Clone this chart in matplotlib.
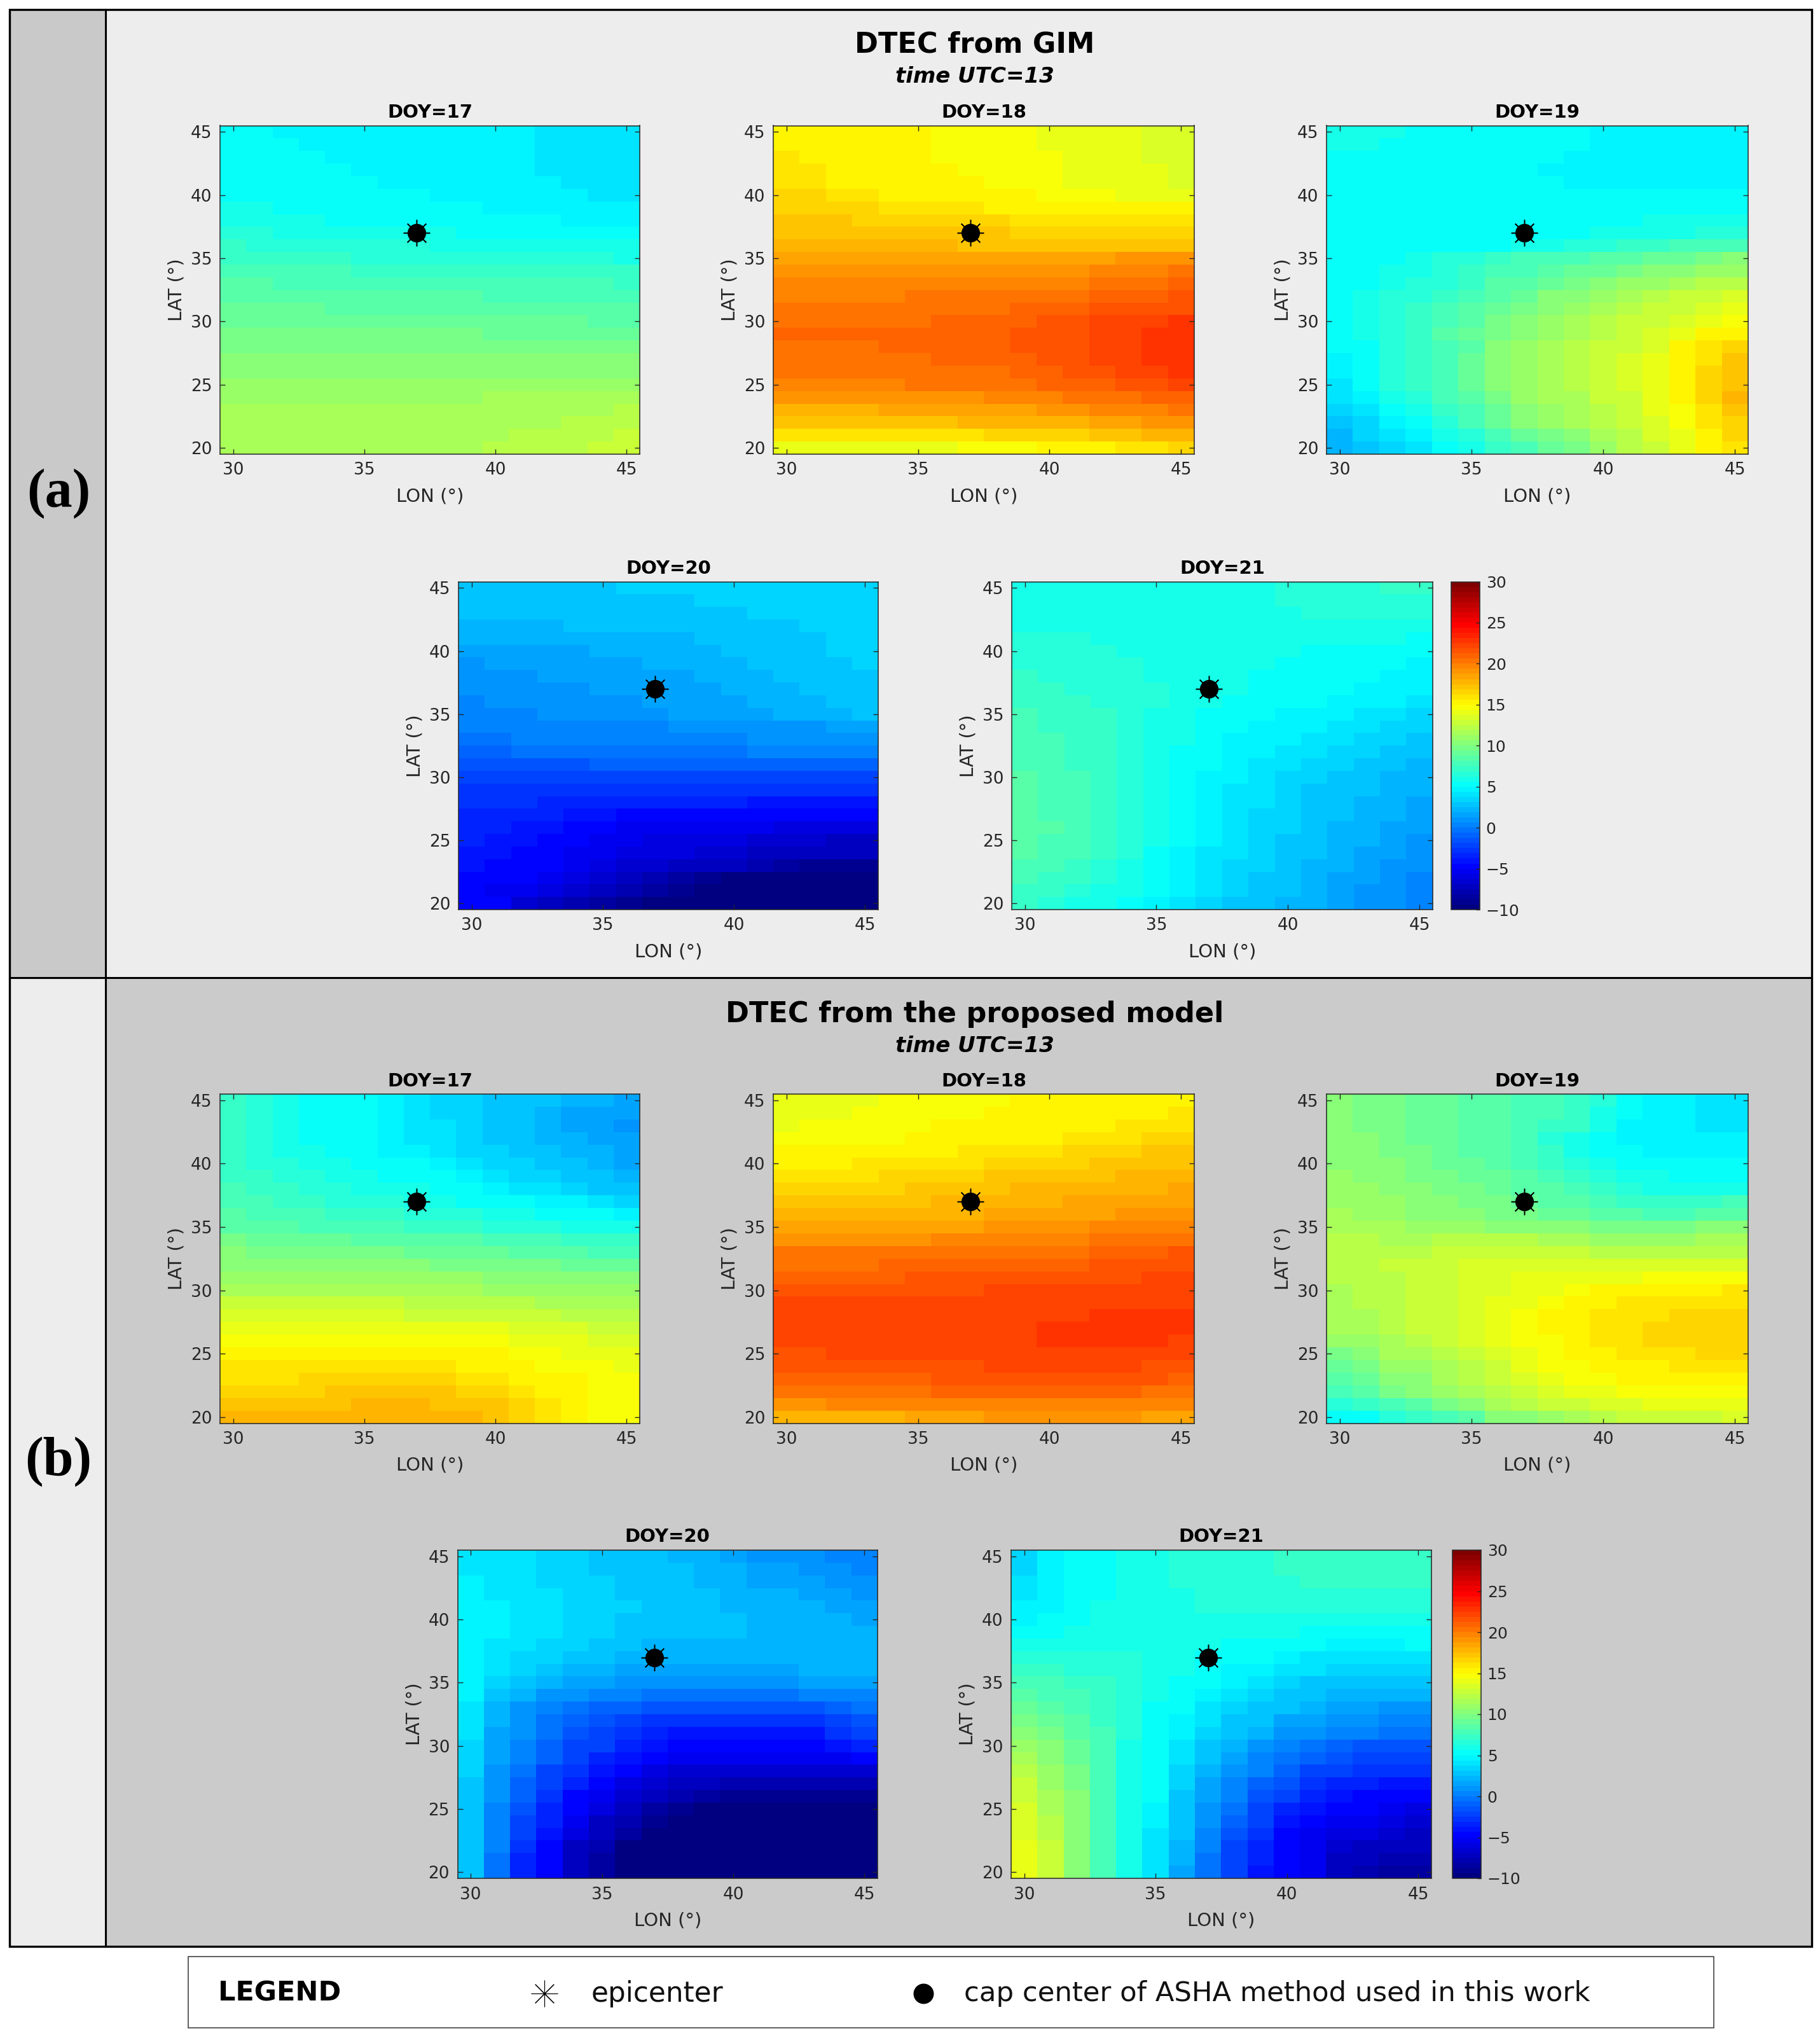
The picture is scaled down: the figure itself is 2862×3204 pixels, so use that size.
import matplotlib
matplotlib.use("Agg")
import matplotlib.pyplot as plt
import numpy as np
from matplotlib.colors import LinearSegmentedColormap
from matplotlib.lines import Line2D
from matplotlib.patches import Rectangle

# Data: DTEC, in tenths of TECU
# rows go from LAT 45 down to LAT 20, columns from LON 30 to LON 45
lon = np.arange(30, 46)
lat = np.arange(45, 19, -1)

gim_17 = [
[50,50,49,49,48,48,47,47,46,45,45,44,43,42,42,42],
[51,50,50,49,49,48,48,47,46,46,45,44,43,42,42,41],
[52,51,50,50,49,49,48,48,47,46,45,44,43,42,41,41],
[53,52,51,50,50,49,49,48,47,46,45,44,43,42,41,41],
[54,53,52,51,50,50,49,49,48,47,46,45,44,43,42,41],
[56,55,54,53,52,51,50,50,49,48,47,46,45,44,43,42],
[58,57,56,55,54,53,52,52,51,50,49,48,47,46,45,44],
[61,60,59,57,56,55,54,54,53,52,51,50,50,49,48,47],
[65,64,62,61,60,59,58,58,57,56,55,55,54,53,52,51],
[69,68,67,66,65,64,63,63,62,61,60,60,59,58,57,57],
[72,72,71,70,69,68,68,67,67,66,65,65,64,64,63,62],
[77,77,76,75,75,74,74,73,73,72,72,71,71,70,70,69],
[82,82,81,81,80,80,79,79,78,78,77,76,76,75,75,74],
[85,85,85,84,84,83,83,83,82,82,81,81,80,79,79,78],
[88,88,88,88,87,87,87,86,86,86,85,85,84,83,83,82],
[92,92,92,91,91,91,90,90,90,90,89,89,88,88,87,87],
[96,96,96,95,95,95,94,94,94,94,93,93,93,92,92,92],
[99,99,99,99,98,98,98,98,98,98,97,97,97,97,96,96],
[103,103,103,102,102,102,102,102,102,102,101,101,101,101,101,101],
[106,106,106,106,106,106,106,106,106,106,105,105,105,105,105,105],
[110,110,110,110,110,110,110,110,110,110,110,110,110,110,110,110],
[112,112,112,112,112,112,112,112,112,112,113,113,113,114,114,115],
[114,114,114,114,114,114,114,114,114,115,115,116,116,117,118,119],
[115,115,115,115,115,115,115,115,115,116,116,117,118,120,121,122],
[115,115,115,115,116,116,116,116,117,117,118,119,120,122,123,125],
[114,115,115,115,116,116,116,116,117,118,119,120,121,123,125,127],
]

gim_18 = [
[156,155,152,150,150,150,148,147,146,145,143,142,141,140,137,136],
[156,155,152,150,150,150,149,148,147,145,143,142,141,140,137,136],
[157,156,153,151,150,150,149,148,147,145,144,142,141,140,137,136],
[158,157,155,152,151,150,150,149,147,145,144,142,141,140,138,136],
[160,159,156,154,152,151,150,150,148,146,145,143,142,141,139,137],
[164,163,160,158,156,154,152,151,150,150,148,146,144,143,141,140],
[168,167,165,163,162,160,158,157,156,155,154,152,151,150,150,150],
[171,170,169,168,167,166,165,164,163,162,161,160,160,159,159,158],
[174,173,173,172,171,171,170,170,169,168,167,167,166,166,166,166],
[177,177,176,176,175,175,175,174,174,173,173,172,172,172,171,171],
[182,182,182,182,182,182,182,182,183,183,184,185,186,188,190,192],
[188,188,188,188,188,188,188,188,189,190,191,192,194,196,198,200],
[194,194,194,194,194,195,195,195,196,197,198,199,201,203,205,207],
[199,199,199,199,199,200,200,200,201,203,204,206,208,209,211,213],
[202,202,202,202,203,203,204,204,205,207,209,211,213,215,217,218],
[205,205,205,205,206,206,207,207,208,211,214,217,219,222,224,225],
[207,207,207,207,208,208,209,209,210,213,215,218,220,223,225,227],
[205,205,206,206,207,207,208,209,210,213,215,218,221,224,227,230],
[203,203,204,204,205,206,207,208,209,212,215,218,221,224,227,231],
[201,201,202,202,203,203,204,205,206,209,212,215,218,220,223,226],
[197,197,198,198,199,200,201,202,203,205,207,210,212,215,217,220],
[189,189,190,190,191,191,192,193,194,196,198,200,203,206,209,212],
[180,180,181,181,182,182,183,184,185,187,189,191,194,197,199,202],
[172,172,172,173,173,173,174,175,176,178,179,181,184,187,189,192],
[160,160,160,160,161,161,161,162,163,165,167,168,171,174,177,180],
[140,140,141,141,142,142,143,144,146,148,150,152,155,158,161,165],
]

gim_19 = [
[60,59,58,56,55,55,54,52,51,50,49,48,47,46,46,45],
[58,57,56,55,54,54,53,51,51,50,49,48,46,46,45,45],
[56,55,54,53,52,52,51,50,50,49,48,47,45,44,44,44],
[54,53,52,51,51,51,50,50,49,49,47,47,46,45,45,44],
[52,52,51,50,50,50,50,50,50,49,48,47,47,46,45,45],
[50,50,50,50,50,50,50,50,50,50,50,50,50,50,50,50],
[50,50,50,50,50,50,50,50,50,50,52,52,53,53,54,55],
[50,50,50,50,50,50,50,50,52,53,55,56,57,57,58,60],
[50,50,50,50,50,50,52,52,54,55,58,60,60,62,63,65],
[50,50,50,50,50,50,55,58,60,63,67,70,72,75,77,80],
[50,53,55,60,63,66,70,75,77,80,83,86,90,93,96,100],
[50,55,58,62,65,70,77,80,85,88,92,96,100,103,107,110],
[50,56,60,65,68,73,82,87,92,96,102,107,110,115,120,123],
[50,57,63,68,72,78,87,93,100,105,110,117,120,125,130,134],
[50,58,65,70,76,82,92,98,105,110,117,122,126,130,135,140],
[50,59,67,72,80,86,96,102,110,115,122,127,130,135,140,148],
[50,58,68,73,82,88,99,105,112,117,124,129,133,140,150,155],
[50,55,65,70,80,87,100,108,115,120,125,130,137,150,157,165],
[48,53,63,70,80,88,100,110,115,120,127,132,140,152,162,170],
[46,52,63,70,80,89,100,110,115,120,128,133,142,152,165,173],
[43,50,63,70,80,90,100,110,115,120,128,133,143,152,165,173],
[38,47,58,66,76,85,97,107,113,118,125,131,140,150,164,175],
[32,42,50,60,70,80,93,103,110,117,122,130,138,148,160,172],
[25,37,45,55,65,75,90,100,107,115,120,128,137,147,157,168],
[22,33,40,47,57,67,80,90,97,105,115,123,133,143,155,165],
[20,30,35,40,50,60,72,80,90,95,110,120,130,140,153,160],
]

gim_20 = [
[30,30,30,31,31,31,32,32,32,33,33,33,34,34,35,35],
[28,28,28,29,29,30,30,31,31,32,32,33,33,34,34,35],
[26,26,26,27,27,28,28,29,30,30,31,32,32,33,34,34],
[23,23,24,24,25,25,26,26,27,28,29,30,31,32,33,34],
[20,20,21,21,22,22,23,23,24,25,27,29,30,31,33,34],
[15,16,17,17,18,19,20,22,22,23,25,27,29,31,33,35],
[12,13,14,15,16,17,18,19,20,21,23,25,27,29,31,33],
[10,11,12,13,14,15,16,17,18,19,21,23,25,27,29,31],
[8,9,10,11,12,13,14,16,17,18,20,22,24,26,28,30],
[6,7,8,9,10,11,12,14,15,16,18,20,22,24,26,28],
[3,4,6,7,8,10,11,12,13,14,15,17,19,21,23,25],
[0,1,2,3,4,4,5,6,7,7,8,9,11,12,14,15],
[-2,-1,0,0,1,2,2,3,4,5,6,7,7,8,9,9],
[-8,-7,-6,-6,-5,-4,-4,-3,-3,-2,-1,0,0,1,1,2],
[-15,-14,-14,-13,-13,-12,-11,-10,-10,-9,-9,-8,-8,-8,-7,-7],
[-20,-20,-20,-20,-20,-20,-20,-20,-20,-20,-20,-20,-20,-20,-20,-20],
[-27,-27,-28,-28,-29,-29,-30,-30,-30,-30,-30,-30,-30,-30,-30,-30],
[-30,-30,-31,-32,-33,-34,-35,-36,-36,-37,-37,-38,-38,-39,-40,-40],
[-33,-34,-35,-37,-40,-42,-44,-45,-46,-46,-47,-47,-48,-49,-50,-50],
[-35,-37,-40,-43,-47,-50,-52,-54,-55,-55,-56,-56,-57,-58,-59,-60],
[-37,-39,-43,-47,-50,-53,-56,-58,-60,-60,-62,-63,-65,-67,-69,-70],
[-40,-42,-45,-49,-53,-56,-58,-60,-62,-64,-66,-69,-72,-74,-75,-75],
[-42,-45,-48,-50,-55,-60,-64,-67,-70,-72,-75,-80,-85,-90,-90,-90],
[-45,-47,-50,-53,-60,-68,-75,-80,-85,-90,-95,-100,-100,-100,-100,-100],
[-50,-52,-56,-60,-67,-75,-80,-87,-92,-98,-100,-100,-100,-100,-100,-100],
[-50,-50,-65,-70,-80,-85,-90,-95,-100,-100,-100,-100,-100,-100,-100,-100],
]

gim_21 = [
[58,58,59,60,60,60,60,60,61,62,63,64,65,67,69,70],
[59,59,60,60,60,60,60,60,61,62,63,64,65,66,67,68],
[60,60,60,60,60,60,60,60,61,61,62,63,63,64,65,66],
[62,62,62,61,61,60,60,60,60,60,60,60,60,61,61,62],
[64,64,63,62,61,60,60,60,60,59,58,58,58,58,57,56],
[65,65,64,63,62,61,60,60,59,58,57,56,55,54,53,51],
[67,66,65,64,63,62,61,60,58,57,56,54,53,51,50,48],
[69,68,67,65,64,62,61,59,58,56,55,53,51,50,48,47],
[70,69,68,67,65,63,61,59,57,56,54,52,50,48,46,45],
[72,70,69,68,66,63,60,58,56,54,52,50,48,46,45,43],
[75,73,71,69,66,62,59,56,53,51,49,47,44,42,39,36],
[76,74,72,70,67,62,58,54,51,49,46,44,41,38,36,33],
[77,75,72,69,66,61,57,53,49,47,44,41,38,35,32,30],
[79,77,73,69,65,60,56,51,47,44,41,38,35,32,29,27],
[80,78,74,70,65,60,55,50,46,42,39,35,32,29,26,24],
[82,79,75,70,65,59,54,49,44,40,36,33,30,27,24,22],
[84,80,76,71,65,59,53,48,43,39,35,31,28,25,22,20],
[85,81,76,71,65,59,53,47,42,38,34,30,27,24,21,18],
[85,81,76,71,65,58,52,46,41,37,33,29,25,22,19,16],
[85,82,77,71,65,58,51,45,40,36,32,28,24,20,17,14],
[84,81,76,70,64,57,50,44,39,35,31,27,23,19,15,12],
[83,80,75,69,63,56,49,43,38,34,30,26,22,17,13,10],
[80,77,73,68,62,55,48,42,37,33,29,24,20,15,11,7],
[76,74,70,65,60,54,47,41,35,31,27,23,18,13,9,6],
[72,70,66,62,57,52,45,39,33,29,25,21,17,12,8,5],
[70,66,62,57,52,47,41,36,31,27,24,20,15,10,7,5],
]

model_17 = [
[70,65,57,50,50,50,45,40,37,32,30,28,25,20,20,15],
[70,65,58,52,50,50,45,41,37,32,29,26,22,18,18,13],
[70,65,60,53,50,50,45,42,38,32,28,25,20,17,17,12],
[70,66,61,55,52,50,46,43,39,34,30,27,23,19,18,14],
[70,67,62,58,55,52,49,46,42,37,33,30,27,23,20,17],
[70,67,63,60,57,55,52,50,45,40,36,33,30,25,22,17],
[72,70,67,64,62,59,55,52,50,45,42,37,34,30,26,22],
[75,72,70,67,65,62,60,57,53,50,48,42,38,32,30,25],
[78,76,73,70,68,66,64,62,59,56,52,50,47,44,43,35],
[82,80,78,75,73,71,70,68,65,63,60,57,55,52,50,48],
[87,85,83,81,79,77,75,74,72,70,68,66,65,62,61,60],
[95,93,91,89,88,87,87,85,83,82,80,78,76,74,72,70],
[100,99,98,97,96,95,95,93,91,90,88,86,85,83,81,80],
[105,104,103,103,102,102,102,101,99,98,97,95,94,92,91,90],
[112,112,111,111,110,110,110,109,108,107,105,104,103,102,101,100],
[118,118,117,117,117,116,116,115,114,114,112,111,110,109,108,107],
[125,125,125,125,125,125,125,124,123,122,121,119,118,117,115,113],
[132,132,132,132,132,132,132,131,130,130,128,127,126,124,122,120],
[140,140,140,140,141,141,141,140,140,139,138,136,134,132,130,127],
[147,147,147,147,147,148,148,148,147,146,145,143,141,139,136,134],
[151,151,152,152,153,153,154,154,153,152,150,148,146,143,141,139],
[157,157,157,158,159,159,159,159,158,156,154,152,149,146,144,142],
[161,161,162,163,163,164,165,165,163,162,160,156,153,150,148,145],
[166,166,167,168,169,170,170,170,169,167,165,161,156,153,149,145],
[171,171,172,173,174,175,175,175,174,172,169,165,160,154,149,145],
[175,175,176,176,177,178,179,179,178,176,172,168,162,156,149,145],
]

model_18 = [
[140,141,142,143,144,145,147,148,149,150,151,152,152,153,154,155],
[142,143,143,144,145,146,148,149,150,151,152,153,154,155,156,157],
[143,144,145,146,147,148,150,150,151,152,154,155,156,158,159,160],
[145,146,147,148,149,150,151,152,153,155,156,158,160,161,163,165],
[150,150,151,152,153,155,156,157,158,159,161,163,165,167,170,172],
[155,155,156,157,158,160,161,162,164,165,167,168,169,170,172,174],
[160,160,161,162,163,164,166,167,169,170,172,173,174,175,177,178],
[165,165,166,167,168,169,170,172,173,175,176,177,178,179,181,182],
[170,170,171,172,173,174,175,176,178,179,180,182,183,184,186,187],
[175,175,176,176,177,178,179,180,182,183,184,186,187,189,191,193],
[182,182,183,183,184,185,186,187,188,190,191,192,194,195,197,199],
[190,190,191,191,192,193,194,195,196,197,198,199,201,202,204,206],
[200,200,200,201,201,202,202,203,203,204,205,206,208,210,212,215],
[205,205,206,206,207,207,208,208,209,210,211,212,213,214,216,217],
[211,211,211,212,212,213,213,214,214,215,216,216,217,218,220,221],
[216,216,216,217,217,217,218,218,219,219,220,220,221,221,222,223],
[219,219,219,219,220,220,220,221,221,221,222,222,223,223,224,224],
[220,220,220,221,221,221,221,222,222,223,224,224,225,225,225,225],
[222,222,221,221,222,222,222,222,223,224,225,226,226,226,226,226],
[221,221,221,221,221,222,222,222,223,224,225,226,226,226,225,224],
[218,218,219,219,219,220,220,221,221,222,223,224,224,224,222,220],
[215,215,216,216,216,217,217,218,219,219,220,220,220,220,218,216],
[210,210,210,211,211,212,213,213,214,214,215,215,215,214,213,212],
[203,203,204,204,205,206,207,207,208,208,208,208,208,207,206,205],
[193,193,194,194,195,196,196,197,197,197,198,198,197,197,196,195],
[175,176,178,180,181,183,186,187,188,189,190,190,188,188,186,184],
]

model_19 = [
[100,98,95,92,90,87,85,80,75,70,65,50,47,45,42,40],
[100,98,95,93,90,87,85,80,75,70,60,50,47,45,42,40],
[101,99,96,93,90,87,85,81,74,69,58,49,47,45,42,40],
[102,100,96,93,90,86,82,76,68,58,52,47,46,45,45,44],
[103,101,98,95,91,87,83,78,70,60,53,50,48,47,46,45],
[105,103,100,97,93,89,85,80,73,67,60,56,53,51,50,50],
[107,105,102,99,96,92,88,84,78,72,67,62,58,55,53,52],
[110,108,105,102,99,95,91,87,82,76,70,66,62,61,60,62],
[111,109,107,104,101,98,95,92,87,82,77,72,70,70,72,76],
[113,111,109,106,103,101,99,97,93,90,85,82,80,80,83,87],
[117,116,113,111,109,107,106,105,103,100,98,96,96,97,100,102],
[119,119,117,117,119,120,121,119,117,114,112,111,111,112,113,114],
[120,121,123,124,126,128,129,130,129,126,124,121,122,123,124,123],
[120,122,125,127,130,132,134,137,136,135,135,134,134,135,135,135],
[119,121,124,127,130,133,136,138,140,141,142,143,144,145,146,147],
[117,120,124,127,130,133,137,140,143,145,150,152,153,154,155,157],
[116,119,124,127,130,135,138,142,147,150,154,157,160,162,162,162],
[115,118,123,127,130,135,140,146,151,155,158,160,162,164,165,165],
[113,115,120,125,130,135,140,145,150,155,159,162,165,166,166,167],
[108,112,118,122,125,132,139,144,149,154,158,161,164,166,167,168],
[98,104,113,117,120,128,134,141,146,153,156,158,159,162,164,166],
[93,98,108,112,117,123,129,138,144,149,153,155,156,159,161,162],
[87,92,101,105,114,119,125,134,140,147,149,151,153,154,155,156],
[80,85,95,100,109,115,124,130,135,140,142,144,146,147,148,149],
[65,70,80,85,99,105,114,120,125,130,134,137,139,140,141,142],
[50,55,65,70,80,85,100,105,110,115,120,125,126,128,130,132],
]

model_20 = [
[42,40,38,35,32,30,28,25,22,20,15,12,10,7,5,3],
[43,41,39,36,33,31,29,27,25,22,19,15,13,11,9,6],
[44,42,40,37,35,32,30,28,26,24,21,18,16,14,12,9],
[45,43,41,38,36,33,31,29,27,25,23,21,19,17,15,12],
[46,44,42,39,37,34,32,30,28,26,24,23,21,19,18,15],
[47,44,42,39,36,33,31,29,27,26,25,24,23,22,20,18],
[47,44,41,38,35,32,30,27,25,25,25,24,24,23,22,21],
[46,43,40,36,32,28,26,24,23,22,22,23,23,24,24,24],
[45,41,37,33,29,25,23,21,20,20,20,21,22,22,23,24],
[44,38,33,28,24,20,18,17,16,16,16,17,18,19,20,20],
[45,33,26,21,16,13,11,9,9,9,9,10,12,14,16,16],
[45,28,19,11,7,3,0,-2,-2,-2,-2,-2,-2,0,3,5],
[42,22,12,2,-3,-7,-12,-13,-14,-14,-14,-14,-14,-13,-8,-5],
[40,20,8,-5,-12,-15,-23,-26,-28,-29,-29,-29,-29,-28,-20,-15],
[38,18,7,-6,-17,-20,-30,-35,-38,-38,-38,-38,-38,-38,-30,-25],
[37,17,5,-7,-20,-25,-35,-40,-45,-45,-45,-47,-47,-45,-40,-35],
[35,15,2,-12,-25,-32,-42,-50,-55,-55,-55,-55,-55,-55,-53,-50],
[32,12,-5,-20,-30,-40,-50,-60,-65,-65,-65,-65,-65,-65,-65,-65],
[30,10,-8,-25,-37,-47,-57,-67,-72,-75,-77,-77,-78,-78,-78,-78],
[27,8,-12,-30,-45,-55,-65,-75,-80,-85,-90,-90,-90,-90,-90,-90],
[26,6,-15,-32,-50,-60,-72,-82,-90,-95,-98,-100,-100,-100,-100,-100],
[25,3,-20,-35,-52,-70,-80,-90,-100,-100,-100,-100,-100,-100,-100,-100],
[25,2,-25,-42,-62,-75,-87,-97,-100,-100,-100,-100,-100,-100,-100,-100],
[25,0,-30,-50,-70,-80,-95,-100,-100,-100,-100,-100,-100,-100,-100,-100],
[25,-2,-32,-50,-72,-82,-100,-100,-100,-100,-100,-100,-100,-100,-100,-100],
[25,-3,-35,-50,-75,-85,-100,-100,-100,-100,-100,-100,-100,-100,-100,-100],
]

model_21 = [
[35,45,50,55,57,60,63,65,67,68,70,70,72,73,74,73],
[36,45,50,55,57,60,63,65,67,68,70,70,72,73,73,73],
[38,46,50,55,58,60,63,65,66,67,68,69,70,71,71,71],
[40,47,52,56,58,60,62,64,65,66,66,67,68,68,68,68],
[44,48,54,57,59,60,62,63,64,64,64,64,64,64,64,64],
[47,50,55,58,60,60,62,62,62,62,62,60,60,60,60,60],
[54,56,58,60,61,61,61,60,59,58,57,56,55,55,55,55],
[60,62,62,62,62,60,60,57,55,53,50,50,48,48,48,50],
[63,65,65,65,63,60,60,55,50,50,46,43,42,40,40,40],
[70,70,68,67,64,60,58,53,48,45,42,38,35,35,35,35],
[75,75,70,70,65,60,55,50,45,40,35,30,28,28,28,28],
[82,80,75,72,65,58,52,46,40,35,30,25,22,20,20,20],
[90,85,80,73,65,55,50,42,35,30,25,20,17,15,12,12],
[95,90,82,74,65,55,48,38,30,25,18,13,10,7,5,3],
[100,95,85,75,65,55,45,35,27,20,12,7,3,0,-2,-5],
[110,100,90,75,60,50,40,30,20,10,5,-5,-10,-15,-15,-15],
[115,105,92,76,60,50,38,27,15,5,-2,-12,-17,-22,-22,-22],
[120,110,95,77,60,50,35,23,10,0,-10,-20,-25,-30,-30,-30],
[125,112,97,78,60,50,32,18,5,-7,-17,-27,-32,-37,-40,-40],
[130,115,100,80,60,50,30,15,0,-15,-25,-35,-40,-45,-50,-50],
[132,118,102,80,60,48,28,11,-5,-20,-32,-42,-47,-50,-55,-57],
[135,122,105,80,60,45,27,7,-10,-25,-40,-50,-55,-55,-60,-65],
[137,123,105,80,60,42,25,3,-15,-30,-45,-52,-60,-62,-65,-70],
[140,125,105,80,60,40,22,0,-20,-35,-50,-55,-65,-70,-70,-75],
[140,125,105,80,61,40,20,-2,-22,-37,-50,-55,-70,-75,-77,-80],
[140,125,105,80,62,40,18,-5,-25,-40,-50,-55,-75,-80,-85,-85],
]

days = [17, 18, 19, 20, 21]
gim_maps = [gim_17, gim_18, gim_19, gim_20, gim_21]
model_maps = [model_17, model_18, model_19, model_20, model_21]

W, H = 2862, 3204
plt.rcParams['font.family'] = ['DejaVu Sans']

# same jet as MATLAB, 64 levels
jet64 = LinearSegmentedColormap.from_list(
    "jet64",
    [(0, (0, 0, 0.5)), (1/8, (0, 0, 1)), (3/8, (0, 1, 1)), (5/8, (1, 1, 0)),
     (7/8, (1, 0, 0)), (1, (0.5, 0, 0))],
    N=64)

fig = plt.figure(figsize=(W/100, H/100), dpi=100, facecolor="white")


def fx(x):
    return x / W


def fy(y):
    return 1 - y / H


def box(x0, y0, x1, y1, color, edge="none", lw=0, z=0):
    fig.add_artist(Rectangle((fx(x0), fy(y1)), (x1-x0)/W, (y1-y0)/H, transform=fig.transFigure,
                             facecolor=color, edgecolor=edge, linewidth=lw, zorder=z))


def axes_at(x0, y0, x1, y1):
    return fig.add_axes([fx(x0), fy(y1), (x1-x0)/W, (y1-y0)/H])


def draw_map(values, day, x0, y0, x1, y1):
    ax = axes_at(x0, y0, x1, y1)
    mesh = ax.pcolormesh(lon, lat, np.array(values) / 10, shading="nearest", cmap=jet64, vmin=-10, vmax=30)
    ax.plot(37, 37, marker=(8, 2, 0), ms=30, mew=1.1, color="black", ls="none")
    ax.plot(37, 37, marker="o", ms=21, mew=0, color="black", ls="none")
    ax.set_xlim(29.5, 45.5)
    ax.set_ylim(19.5, 45.5)
    ax.set_xticks([30, 35, 40, 45])
    ax.set_yticks([20, 25, 30, 35, 40, 45])
    ax.tick_params(direction="in", top=True, right=True, length=6, width=1.0, color="#262626",
                   labelcolor="#262626", labelsize=19, pad=9)
    for s in ax.spines.values():
        s.set_linewidth(1.1)
        s.set_color("#262626")
    ax.set_title("DOY=%d" % day, fontsize=21, fontweight="bold", pad=9)
    ax.set_xlabel("LON (°)", fontsize=21, color="#262626", labelpad=10)
    ax.set_ylabel("LAT (°)", fontsize=21, color="#262626", labelpad=6)
    return mesh


def draw_cbar(mesh, x0, y0, x1, y1):
    cax = axes_at(x0, y0, x1, y1)
    cb = fig.colorbar(mesh, cax=cax)
    cb.set_ticks(np.arange(-10, 31, 5))
    cb.ax.tick_params(direction="in", right=True, length=4, width=1.0, color="#262626",
                      labelcolor="#262626", labelsize=18, pad=7)
    cb.outline.set_linewidth(1.1)
    cb.outline.set_edgecolor("#262626")


# Panel backgrounds and frame
box(15, 15, 166, 1537, "#c9c9c9")
box(166, 15, 2849, 1537, "#ededed")
box(15, 1537, 166, 3060, "#ededed")
box(166, 1537, 2849, 3060, "#cbcbcb")
box(15, 15, 2849, 3060, "none", "black", 2.4, 1)
fig.add_artist(Line2D([fx(15), fx(2849)], [fy(1537), fy(1537)], color="black", lw=2.2, zorder=1))
fig.add_artist(Line2D([fx(166), fx(166)], [fy(15), fy(3060)], color="black", lw=2.2, zorder=1))

fig.text(fx(92), fy(776), "(a)", family="Liberation Serif", fontweight="bold", fontsize=62, ha="center", va="center")
fig.text(fx(92), fy(2298), "(b)", family="Liberation Serif", fontweight="bold", fontsize=62, ha="center", va="center")

fig.text(fx(1533), fy(70), "DTEC from GIM", fontsize=32, fontweight="bold", ha="center", va="center")
fig.text(fx(1533), fy(120), "time UTC=13", fontsize=24.5, fontweight="bold", style="italic", ha="center", va="center")
fig.text(fx(1533), fy(1594), "DTEC from the proposed model", fontsize=32, fontweight="bold", ha="center", va="center")
fig.text(fx(1533), fy(1644), "time UTC=13", fontsize=24.5, fontweight="bold", style="italic", ha="center", va="center")

# Panel (a)
gim_boxes = [(346, 197.5, 1006, 714), (1216, 197.5, 1878, 714), (2086, 197.5, 2749, 714),
             (721, 914.5, 1381, 1430), (1591, 914.5, 2252.7, 1430)]
for values, day, b in zip(gim_maps, days, gim_boxes):
    mesh = draw_map(values, day, *b)
draw_cbar(mesh, 2282, 914.5, 2327, 1430)

# Panel (b)
model_boxes = [(346, 1720, 1006, 2237.5), (1216, 1720, 1878, 2237.5), (2086, 1720, 2749, 2237.5),
               (719.6, 2437, 1380, 2953), (1590, 2437, 2250.6, 2953)]
for values, day, b in zip(model_maps, days, model_boxes):
    mesh = draw_map(values, day, *b)
draw_cbar(mesh, 2284, 2437, 2329, 2953)

# Legend strip
box(296, 3076, 2695, 3188, "white", "#333333", 1.1)
fig.text(fx(343), fy(3134), "LEGEND", fontsize=31, fontweight="bold", ha="left", va="center")
fig.add_artist(Line2D([fx(856)], [fy(3134)], marker=(8, 2, 0), ms=30, mew=0.8, color="black", ls="none"))
fig.text(fx(930), fy(3134), "epicenter", fontsize=31.5, color="#111111", ha="left", va="center")
fig.add_artist(Line2D([fx(1452)], [fy(3134)], marker="o", ms=23, mew=0, color="black", ls="none"))
fig.text(fx(1516), fy(3134), "cap center of ASHA method used in this work", fontsize=31.2, color="#111111", ha="left", va="center")

fig.savefig("out.png", dpi=100)
